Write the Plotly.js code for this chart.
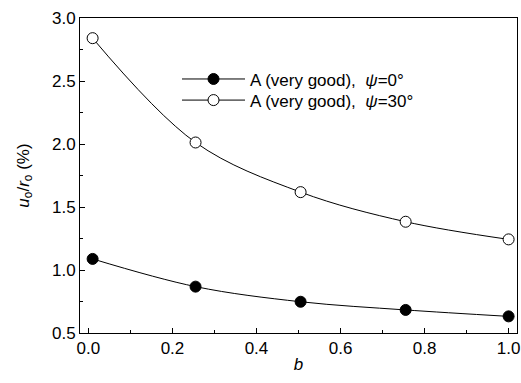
<!DOCTYPE html>
<html>
<head>
<meta charset="utf-8">
<script src="https://cdn.plot.ly/plotly-3.0.1.min.js"></script>
<style>html,body{margin:0;padding:0;background:#fff;}#chart{width:521px;height:383px;}</style>
</head>
<body>
<div id="chart"></div>
<script>
var bValues = [0.01, 0.255, 0.505, 0.755, 1.0];
var psi0 = [1.088, 0.868, 0.748, 0.683, 0.632];
var psi30 = [2.84, 2.012, 1.618, 1.383, 1.243];
var seriesNames = ['A (very good),  <i>ψ</i>=0°', 'A (very good),  <i>ψ</i>=30°'];

var font = {family: 'Liberation Sans, Arial, sans-serif', size: 17, color: '#000'};

var traces = [
  {x: bValues, y: psi0, name: seriesNames[0], mode: 'lines+markers', type: 'scatter', legend: 'legend',
   line: {color: '#000', width: 1, shape: 'spline'},
   marker: {symbol: 'circle', size: 11, color: '#000', line: {color: '#000', width: 1}}},
  {x: bValues, y: psi30, name: seriesNames[1], mode: 'lines+markers', type: 'scatter', legend: 'legend2',
   line: {color: '#000', width: 1, shape: 'spline'},
   marker: {symbol: 'circle', size: 11, color: '#fff', line: {color: '#000', width: 1}}}
];

var legendBase = {x: 0.222, xanchor: 'left', yanchor: 'middle', bgcolor: 'rgba(0,0,0,0)',
                  itemwidth: 63, font: font};

var layout = {
  width: 521, height: 383,
  margin: {l: 80, r: 4, t: 18, b: 50},
  paper_bgcolor: '#fff', plot_bgcolor: '#fff',
  font: font,
  showlegend: true,
  legend: Object.assign({}, legendBase, {y: 0.805}),
  legend2: Object.assign({}, legendBase, {y: 0.738}),
  xaxis: {range: [-0.02, 1.02], dtick: 0.2, tick0: 0, tickformat: '.1f',
          ticks: 'inside', ticklen: 5, tickwidth: 1, tickcolor: '#000',
          minor: {dtick: 0.1, ticks: 'inside', ticklen: 3, tickwidth: 1, tickcolor: '#000'},
          showline: true, linecolor: '#000', linewidth: 1, mirror: true,
          showgrid: false, zeroline: false, tickfont: font,
          title: {text: '<i>b</i>', font: font, standoff: 0}},
  yaxis: {range: [0.5, 3.0], dtick: 0.5, tick0: 0.5, tickformat: '.1f',
          ticks: 'inside', ticklen: 5, tickwidth: 1, tickcolor: '#000',
          minor: {dtick: 0.25, ticks: 'inside', ticklen: 3, tickwidth: 1, tickcolor: '#000'},
          showline: true, linecolor: '#000', linewidth: 1, mirror: true,
          showgrid: false, zeroline: false, tickfont: font,
          title: {text: '<i>u</i><sub>o</sub>/<i>r</i><sub>o</sub> (%)', font: font, standoff: 18}}
};

Plotly.newPlot('chart', traces, layout, {staticPlot: true});
</script>
</body>
</html>
